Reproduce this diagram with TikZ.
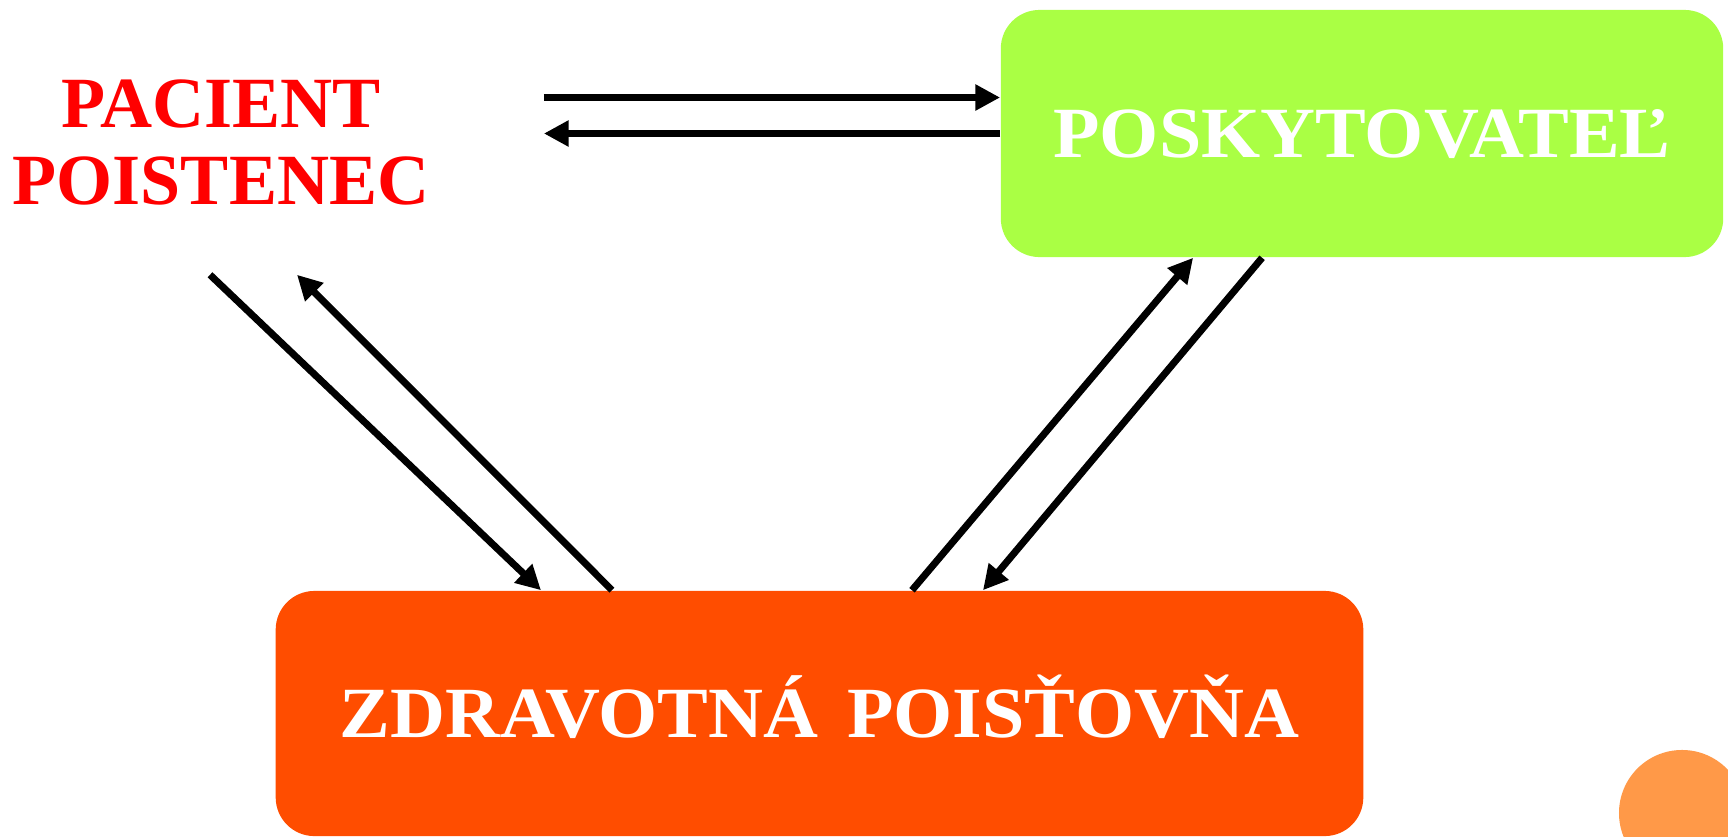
\documentclass[tikz,border=0pt]{standalone}
\usepackage{fontspec}
\setmainfont{Liberation Serif}
\newfontfamily\boxfont[FakeStretch=1.055]{Liberation Serif}
\usetikzlibrary{arrows.meta,calc}

\definecolor{provgreen}{HTML}{AAFF44}
\definecolor{insorange}{HTML}{FF4D00}
\definecolor{dotorange}{HTML}{FF9948}

\begin{document}
\begin{tikzpicture}[x=0.01cm, y=-0.01cm,
  box/.style={rectangle, rounded corners=11pt, inner sep=0pt, text=white,
    font=\boxfont\fontsize{20.5}{24}\selectfont\bfseries, text height=13.6pt, text depth=0pt},
  conn/.style={line width=2pt, -{Triangle[length=7pt,width=7pt]}}]

\useasboundingbox (0,0) rectangle (1728,836);

% actors
\node[inner sep=0pt, minimum width=6.44cm, minimum height=2.64cm, align=center, text=red,
  font=\fontsize{20.5}{21.9}\selectfont\bfseries] (pacient) at (221,142) {PACIENT\\POISTENEC};
\node[box, fill=provgreen, minimum width=7.22cm, minimum height=2.47cm] (poskytovatel) at (1362,133.5) {POSKYTOVATEĽ};
\node[box, fill=insorange, minimum width=10.87cm, minimum height=2.45cm] (poistovna) at (819.5,713.5) {ZDRAVOTNÁ\hspace{0.4em}POISŤOVŇA};

% corner dot
\fill[dotorange] (1682,813) circle[radius=0.63cm];

% pacient <-> poskytovatel
\draw[conn] ($(pacient.east |- poskytovatel.west)+(0,-36)$) -- ($(poskytovatel.west)+(0,-36)$);
\draw[conn] (poskytovatel.west) -- (pacient.east |- poskytovatel.west);

% pacient <-> poistovna
\draw[conn] ($(pacient.south)+(-11,0)$) -- ($(poistovna.north west)+(266,0)$);
\draw[conn] ($(poistovna.north west)+(337,0)$) -- ($(pacient.south)+(76,0)$);

% poistovna <-> poskytovatel
\draw[conn] ($(poistovna.north west)+(637,0)$) -- ($(poskytovatel.south west)+(193,0)$);
\draw[conn] ($(poskytovatel.south west)+(262,0)$) -- ($(poistovna.north west)+(708,0)$);
\end{tikzpicture}
\end{document}
